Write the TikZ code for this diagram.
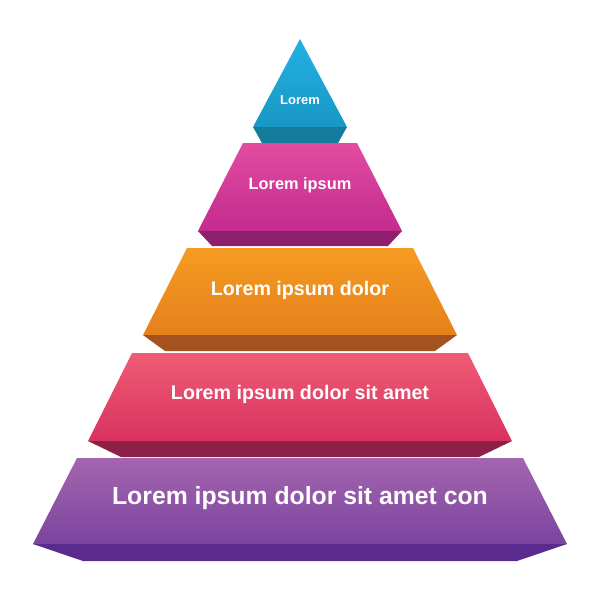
\documentclass[tikz,border=0pt]{standalone}
\usepackage{fontspec}
\setmainfont{Liberation Sans}
\definecolor{bluetop}{HTML}{22B0E3}
\definecolor{bluebot}{HTML}{1898C4}
\definecolor{bluebev}{HTML}{137C9C}
\definecolor{magtop}{HTML}{E14CA0}
\definecolor{magbot}{HTML}{C42B8F}
\definecolor{magbev}{HTML}{8C1F6E}
\definecolor{orgtop}{HTML}{F59B22}
\definecolor{orgbot}{HTML}{E5811B}
\definecolor{orgbev}{HTML}{A4521F}
\definecolor{redtop}{HTML}{EF5C74}
\definecolor{redbot}{HTML}{D8325F}
\definecolor{redbev}{HTML}{8C2046}
\definecolor{purtop}{HTML}{A565AF}
\definecolor{purbot}{HTML}{7A449E}
\definecolor{purbev}{HTML}{5A2A8E}
\tikzset{
  lbl/.style={text=white, font=\bfseries, inner sep=0pt, anchor=center},
}
\begin{document}
\begin{tikzpicture}[x=0.02cm, y=-0.02cm]
\useasboundingbox (0,0) rectangle (600,600);
% Level 1 (blue)
\shade[top color=bluetop, bottom color=bluebot] (300,39) -- (347,127) -- (253,127) -- cycle;
\fill[bluebev] (253,127) -- (347,127) -- (338,143) -- (262,143) -- cycle;
% Level 2 (magenta)
\shade[top color=magtop, bottom color=magbot] (243,143) -- (357,143) -- (402,231) -- (198,231) -- cycle;
\fill[magbev] (198,231) -- (402,231) -- (388,246) -- (212,246) -- cycle;
% Level 3 (orange)
\shade[top color=orgtop, bottom color=orgbot] (187,248) -- (413,248) -- (457,335) -- (143,335) -- cycle;
\fill[orgbev] (143,335) -- (457,335) -- (435,351) -- (165,351) -- cycle;
% Level 4 (red)
\shade[top color=redtop, bottom color=redbot] (132,353) -- (468,353) -- (512,441) -- (88,441) -- cycle;
\fill[redbev] (88,441) -- (512,441) -- (479,457) -- (121,457) -- cycle;
% Level 5 (purple)
\shade[top color=purtop, bottom color=purbot] (77,458) -- (523,458) -- (567,544) -- (33,544) -- cycle;
\fill[purbev] (33,544) -- (567,544) -- (517,561) -- (83,561) -- cycle;
% Labels
\node[lbl, font=\bfseries\fontsize{7.4pt}{9pt}\selectfont] (t1) at (300,100) {Lorem};
\node[lbl, font=\bfseries\fontsize{9.3pt}{11pt}\selectfont] (t2) at (300,185) {Lorem ipsum};
\node[lbl, font=\bfseries\fontsize{11.2pt}{13pt}\selectfont] (t3) at (300,290) {Lorem ipsum dolor};
\node[lbl, font=\bfseries\fontsize{11.2pt}{13pt}\selectfont] (t4) at (300,394) {Lorem ipsum dolor sit amet};
\node[lbl, font=\bfseries\fontsize{14.1pt}{16pt}\selectfont] (t5) at (300,498) {Lorem ipsum dolor sit amet con};
\end{tikzpicture}
\end{document}
